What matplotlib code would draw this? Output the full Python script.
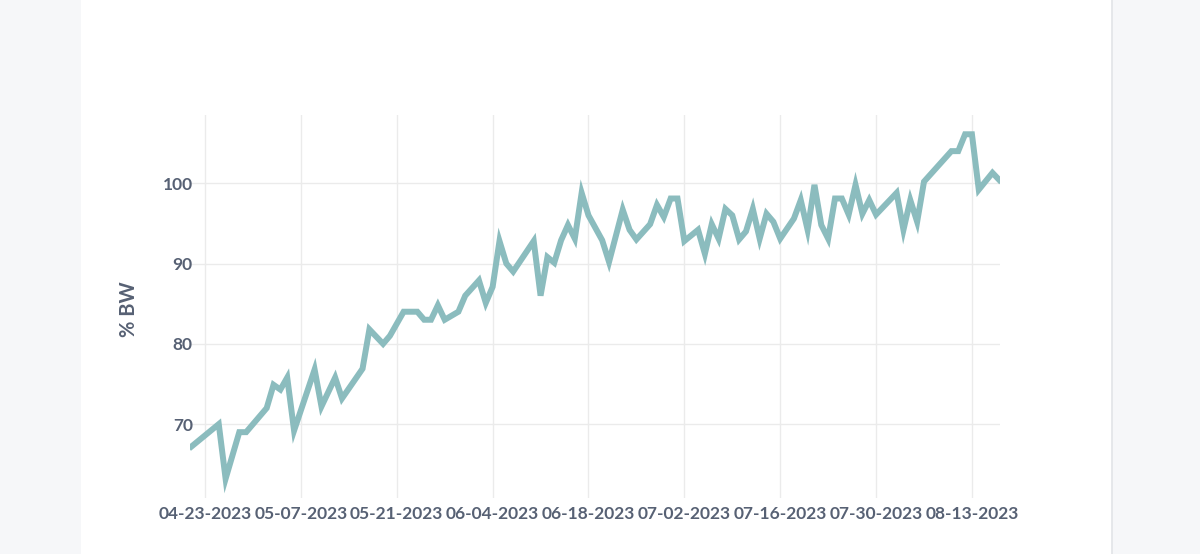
import numpy as np
import pandas as pd
import matplotlib
matplotlib.use("Agg")
import matplotlib.pyplot as plt
import matplotlib.dates as mdates
from matplotlib.patches import Rectangle

# bodyweight percentage log
dates = [
    "2023-04-21", "2023-04-25", "2023-04-26", "2023-04-28", "2023-04-29",
    "2023-05-02", "2023-05-03", "2023-05-04", "2023-05-05", "2023-05-06",
    "2023-05-09", "2023-05-10", "2023-05-12", "2023-05-13", "2023-05-16",
    "2023-05-17", "2023-05-19", "2023-05-20", "2023-05-22", "2023-05-24",
    "2023-05-25", "2023-05-26", "2023-05-27", "2023-05-28", "2023-05-30",
    "2023-05-31", "2023-06-02", "2023-06-03", "2023-06-04", "2023-06-05",
    "2023-06-06", "2023-06-07", "2023-06-10", "2023-06-11", "2023-06-12",
    "2023-06-13", "2023-06-14", "2023-06-15", "2023-06-16", "2023-06-17",
    "2023-06-18", "2023-06-20", "2023-06-21", "2023-06-23", "2023-06-24",
    "2023-06-25", "2023-06-27", "2023-06-28", "2023-06-29", "2023-06-30",
    "2023-07-01", "2023-07-02", "2023-07-04", "2023-07-05", "2023-07-06",
    "2023-07-07", "2023-07-08", "2023-07-09", "2023-07-10", "2023-07-11",
    "2023-07-12", "2023-07-13", "2023-07-14", "2023-07-15", "2023-07-16",
    "2023-07-18", "2023-07-19", "2023-07-20", "2023-07-21", "2023-07-22",
    "2023-07-23", "2023-07-24", "2023-07-25", "2023-07-26", "2023-07-27",
    "2023-07-28", "2023-07-29", "2023-07-30", "2023-08-02", "2023-08-03",
    "2023-08-04", "2023-08-05", "2023-08-06", "2023-08-10", "2023-08-11",
    "2023-08-12", "2023-08-13", "2023-08-14", "2023-08-16", "2023-08-17",
]
pct_bw = [
    67.2, 70.0, 63.2, 69.0, 69.0,
    72.0, 74.9, 74.3, 75.8, 69.2,
    76.8, 72.2, 75.8, 73.2, 76.9,
    81.8, 80.0, 81.0, 84.0, 84.0,
    83.0, 83.0, 84.8, 83.0, 84.0,
    86.0, 87.9, 85.1, 87.1, 92.8,
    90.0, 89.0, 92.8, 86.0, 90.8,
    90.1, 92.9, 94.8, 93.1, 98.8,
    96.0, 92.9, 90.2, 96.7, 94.2,
    93.0, 94.9, 97.3, 95.8, 98.1,
    98.1, 92.8, 94.2, 91.2, 94.9,
    93.1, 96.8, 96.0, 93.0, 94.0,
    96.8, 93.1, 96.2, 95.2, 93.1,
    95.6, 97.9, 94.2, 99.8, 94.8,
    93.1, 98.1, 98.1, 96.1, 99.8,
    96.2, 97.9, 96.1, 98.8, 94.2,
    97.9, 95.2, 100.2, 104.0, 104.0,
    106.1, 106.1, 99.2, 101.3, 100.4,
]
y_ticks = [70, 80, 90, 100]
x_ticks = ["2023-04-23", "2023-05-07", "2023-05-21", "2023-06-04", "2023-06-18",
           "2023-07-02", "2023-07-16", "2023-07-30", "2023-08-13"]

x = pd.to_datetime(dates)
text_col = "#576174"

fig = plt.figure(figsize=(12, 5.54), dpi=100, facecolor="#f6f7f9")
# white card behind the axes
fig.patches.append(Rectangle((81 / 1200, 0), (1112 - 81) / 1200, 1,
                             transform=fig.transFigure, facecolor="white",
                             edgecolor="none", zorder=-5))
fig.add_artist(plt.Line2D([1112 / 1200, 1112 / 1200], [0, 1], transform=fig.transFigure,
                          color="#e2e4e8", lw=1.2, zorder=-4))

ax = fig.add_axes([190 / 1200, 1 - 498 / 554, 810 / 1200, 383 / 554])
ax.set_facecolor("none")
ax.plot(x, pct_bw, color="#8bbcbe", lw=4.3, solid_joinstyle="miter", zorder=3)

ax.set_ylim(60.8, 108.5)
ax.set_xlim(pd.Timestamp("2023-04-23") - pd.Timedelta(days=2.2),
            pd.Timestamp("2023-04-23") + pd.Timedelta(days=116.1))
ax.set_yticks(y_ticks)
ax.set_xticks(pd.to_datetime(x_ticks))
ax.xaxis.set_major_formatter(mdates.DateFormatter("%m-%d-%Y"))

ax.grid(True, color="#ebebeb", lw=1)
for s in ax.spines.values():
    s.set_visible(False)
ax.tick_params(length=0, labelsize=12.5, labelcolor=text_col)
ax.tick_params(axis="x", pad=6)
ax.tick_params(axis="y", pad=-2)
for lab in ax.get_xticklabels() + ax.get_yticklabels():
    lab.set_family("Lato")
    lab.set_fontweight("bold")
ax.set_ylabel("% BW", fontsize=14.5, color=text_col, family="Lato", fontweight="bold")
ax.yaxis.set_label_coords(-(190 - 139) / 810, (498 - 309) / 383)

fig.savefig("out.png", dpi=100, facecolor=fig.get_facecolor())
